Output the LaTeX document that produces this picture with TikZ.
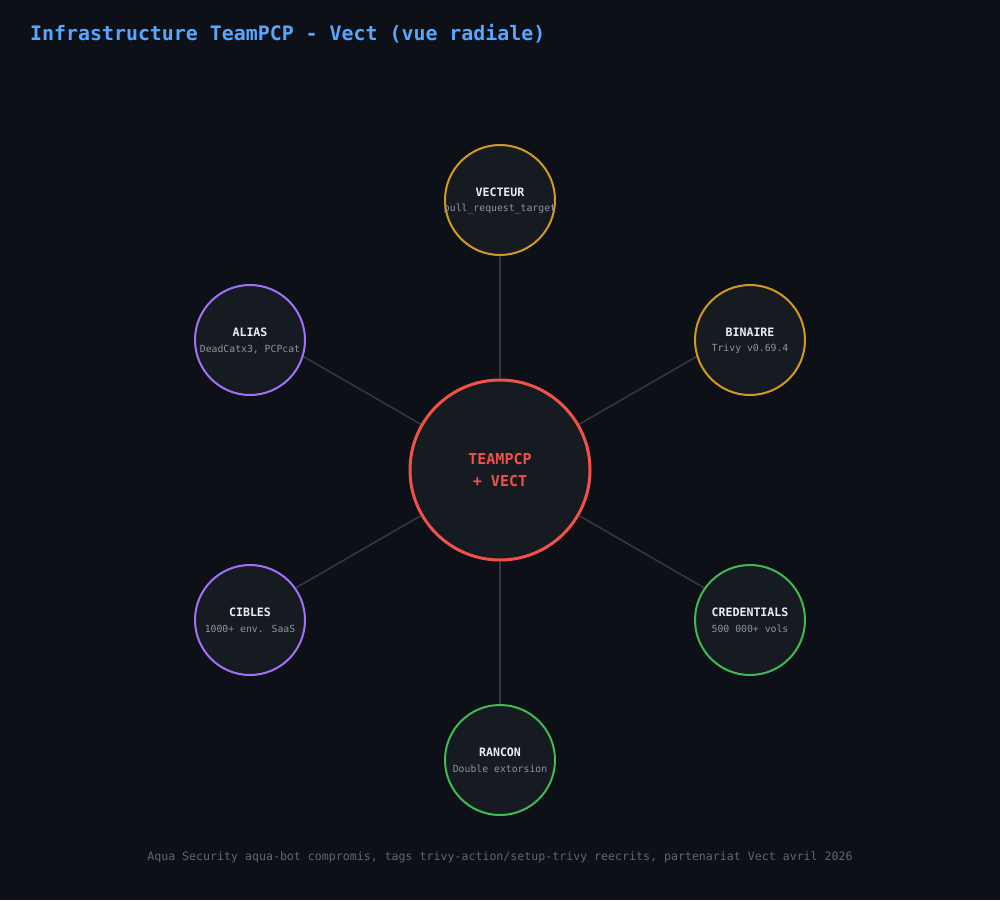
\documentclass[tikz,border=0pt]{standalone}
\usepackage{fontspec}
\setmainfont{DejaVu Sans Mono}
\definecolor{bgdark}{HTML}{0D1117}
\definecolor{nodefill}{HTML}{161B22}
\definecolor{edgegray}{HTML}{34393F}
\definecolor{titleblue}{HTML}{58A6FF}
\definecolor{corered}{HTML}{F0524A}
\definecolor{gold}{HTML}{D29922}
\definecolor{violet}{HTML}{A371F7}
\definecolor{leaf}{HTML}{3FB950}
\definecolor{label}{HTML}{E6EDF3}
\definecolor{subgray}{HTML}{8B949E}
\definecolor{footgray}{HTML}{5F6670}
\tikzset{
  core/.style={circle, draw=corered, line width=3pt, fill=nodefill, minimum size=180pt, inner sep=0pt,
    text=corered, align=center, font=\bfseries\fontsize{15}{22}\selectfont},
  outer/.style={circle, line width=2pt, fill=nodefill, minimum size=110pt, inner sep=0pt},
  ttl/.style={text=label, font=\bfseries\fontsize{11.6}{14}\selectfont, inner sep=0pt},
  sub/.style={text=subgray, font=\fontsize{9.8}{12}\selectfont, inner sep=0pt},
  edge/.style={draw=edgegray, line width=1.5pt}
}
\begin{document}
\begin{tikzpicture}[x=1pt,y=-1pt]
\useasboundingbox[fill=bgdark] (0,0) rectangle (1000,900);
\node[anchor=base west, text=titleblue, font=\bfseries\fontsize{19.9}{24}\selectfont, inner sep=0pt] (title) at (30,40) {Infrastructure TeamPCP - Vect (vue radiale)};

% centre + rayons
\node[core] (teampcp) at (500,470) {TEAMPCP\\+ VECT};
\coordinate (ray-vecteur) at (500,220);
\coordinate (ray-binaire) at (716.5,345);
\coordinate (ray-credentials) at (716.5,595);
\coordinate (ray-rancon) at (500,720);
\coordinate (ray-cibles) at (283.5,595);
\coordinate (ray-alias) at (283.5,345);
\path[edge] (teampcp) -- (ray-vecteur);
\path[edge] (teampcp) -- (ray-binaire);
\path[edge] (teampcp) -- (ray-credentials);
\path[edge] (teampcp) -- (ray-rancon);
\path[edge] (teampcp) -- (ray-cibles);
\path[edge] (teampcp) -- (ray-alias);

% noeuds
\node[outer, draw=gold] (vecteur) at (500,200) {};
\node[outer, draw=gold] (binaire) at (750,340) {};
\node[outer, draw=leaf] (credentials) at (750,620) {};
\node[outer, draw=leaf] (rancon) at (500,760) {};
\node[outer, draw=violet] (cibles) at (250,620) {};
\node[outer, draw=violet] (alias) at (250,340) {};

% textes
\node[ttl] (vecteur-t) at (500,192) {VECTEUR};
\node[sub] (vecteur-s) at (500,209) {pull\_request\_target};
\node[ttl] (binaire-t) at (750,332) {BINAIRE};
\node[sub] (binaire-s) at (750,349) {Trivy v0.69.4};
\node[ttl] (credentials-t) at (750,612) {CREDENTIALS};
\node[sub] (credentials-s) at (750,629) {500 000+ vols};
\node[ttl] (rancon-t) at (500,752) {RANCON};
\node[sub] (rancon-s) at (500,769) {Double extorsion};
\node[ttl] (cibles-t) at (250,612) {CIBLES};
\node[sub] (cibles-s) at (250,629) {1000+ env. SaaS};
\node[ttl] (alias-t) at (250,332) {ALIAS};
\node[sub] (alias-s) at (250,349) {DeadCatx3, PCPcat};

\node[anchor=base, text=footgray, font=\fontsize{11.6}{14}\selectfont, inner sep=0pt] (footer) at (500,860) {Aqua Security aqua-bot compromis, tags trivy-action/setup-trivy reecrits, partenariat Vect avril 2026};
\end{tikzpicture}
\end{document}
